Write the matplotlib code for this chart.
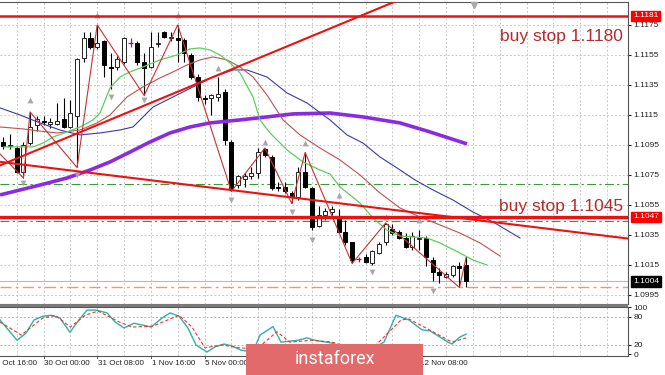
import matplotlib
matplotlib.use("Agg")
import matplotlib.pyplot as plt
import matplotlib.transforms as mtransforms
from matplotlib.patches import Rectangle
import numpy as np

plt.rcParams['font.family'] = ['Liberation Sans', 'DejaVu Sans']

# ---------------- data (EURUSD H4) ----------------
opens = [1.1097, 1.1094, 1.1093, 1.1077, 1.1096, 1.1108, 1.1111, 1.1109, 1.1109, 1.1112,
         1.1107, 1.1114, 1.1153, 1.1166, 1.1160, 1.1164, 1.1147, 1.1147, 1.1150, 1.1163,
         1.1163, 1.1150, 1.1147, 1.1162, 1.1170, 1.1166, 1.1166, 1.1165, 1.1155, 1.1140,
         1.11265, 1.1126, 1.1127, 1.1130, 1.1097, 1.1068, 1.1072, 1.1074, 1.1076, 1.1092,
         1.1087, 1.1067, 1.1067, 1.1063, 1.1060, 1.1077, 1.1066, 1.1041, 1.1048, 1.1050,
         1.1047, 1.1037, 1.1030, 1.1019, 1.1020, 1.1016, 1.1023, 1.1030, 1.1039, 1.1037,
         1.1033, 1.1027, 1.1032, 1.1033, 1.1018, 1.1010, 1.1007, 1.1008, 1.1014, 1.1015]
highs = [1.1100, 1.1102, 1.1094, 1.1097, 1.1117, 1.1114, 1.1114, 1.1113, 1.1123, 1.1126,
         1.1125, 1.1153, 1.1170, 1.1170, 1.1175, 1.1165, 1.1156, 1.1154, 1.1167, 1.1166,
         1.1164, 1.1156, 1.1170, 1.1170, 1.1171, 1.1170, 1.1175, 1.1166, 1.1156, 1.1142,
         1.1128, 1.1129, 1.1140, 1.1132, 1.1098, 1.1075, 1.1076, 1.1080, 1.1093, 1.1093,
         1.1088, 1.1070, 1.1070, 1.1064, 1.1080, 1.1090, 1.1067, 1.1054, 1.1053, 1.1054,
         1.1052, 1.1045, 1.1030, 1.1020, 1.1022, 1.1025, 1.1030, 1.1043, 1.1042, 1.1038,
         1.1036, 1.1037, 1.1038, 1.1034, 1.1020, 1.1013, 1.1010, 1.1015, 1.1017, 1.1020]
lows = [1.1092, 1.1092, 1.1076, 1.1073, 1.1095, 1.1104, 1.1108, 1.1106, 1.1108, 1.1106,
        1.1106, 1.1080, 1.1150, 1.1159, 1.1159, 1.1140, 1.1132, 1.1145, 1.1149, 1.1160,
        1.1148, 1.1128, 1.1146, 1.1160, 1.1166, 1.1164, 1.1150, 1.1150, 1.1139, 1.1124,
        1.1122, 1.1115, 1.1124, 1.1095, 1.1064, 1.1066, 1.1067, 1.1072, 1.1073, 1.1087,
        1.1065, 1.1064, 1.1063, 1.1056, 1.1058, 1.1066, 1.1038, 1.1040, 1.1045, 1.1048,
        1.1036, 1.1028, 1.1016, 1.1017, 1.1016, 1.1015, 1.1022, 1.1028, 1.1035, 1.1032,
        1.1026, 1.1025, 1.1025, 1.1014, 1.1004, 1.1003, 1.1006, 1.1007, 1.1000, 1.1000]
closes = [1.1094, 1.1095, 1.1077, 1.1095, 1.1107, 1.1112, 1.1110, 1.1110, 1.1111, 1.1107,
          1.1116, 1.1152, 1.1166, 1.1160, 1.1163, 1.1148, 1.1146, 1.1152, 1.1166, 1.1163,
          1.1150, 1.1146, 1.1160, 1.1163, 1.1167, 1.1167, 1.1165, 1.1156, 1.1140, 1.1127,
          1.11255, 1.1128, 1.1129, 1.1098, 1.1066, 1.1074, 1.1074, 1.1076, 1.1090, 1.1088,
          1.1066, 1.1066, 1.1064, 1.1060, 1.1077, 1.1067, 1.1040, 1.1048, 1.1051, 1.1052,
          1.1037, 1.1030, 1.1018, 1.1019, 1.1017, 1.1024, 1.1029, 1.1042, 1.1036, 1.1033,
          1.1027, 1.1034, 1.1033, 1.1020, 1.1010, 1.1008, 1.1009, 1.1014, 1.1013, 1.1004]

# Alligator lines (bar index / price)
lips_idx = [0.1, 4.43, 5.92, 7.41, 9.5, 11.43, 13.37, 14.42, 15.91, 17.4, 18.89, 20.82, 23.36,
            25.89, 27.83, 29.32, 30.81, 32.3, 33.8, 35.29, 37.23, 38.27, 39.76, 42.29, 44.68,
            47.21, 48.7, 50.19, 51.68, 53.18, 55.11, 57.2, 59.14, 63.16, 65.1, 68.08, 70.02, 72.11]
lips_val = [1.10937, 1.10937, 1.10963, 1.11003, 1.11037, 1.11070, 1.11117, 1.11163, 1.11330,
            1.11403, 1.11437, 1.11470, 1.11517, 1.11550, 1.11590, 1.11597, 1.11583, 1.11550,
            1.11497, 1.11430, 1.11270, 1.11117, 1.11030, 1.10917, 1.10837, 1.10783, 1.10757,
            1.10670, 1.10617, 1.10563, 1.10463, 1.10383, 1.10343, 1.10330, 1.10297, 1.10230,
            1.10183, 1.10150]
teeth_idx = [-0.49, 2.94, 5.47, 8.01, 11.43, 13.97, 15.91, 18.44, 20.82, 23.36, 25.3, 27.38,
             29.32, 31.26, 33.35, 35.29, 37.23, 39.31, 41.7, 44.23, 47.21, 50.19, 53.18, 56.16,
             59.14, 62.12, 65.1, 68.08, 71.07, 74.05]
teeth_val = [1.11070, 1.11057, 1.11043, 1.11030, 1.11050, 1.11097, 1.11150, 1.11270, 1.11337,
             1.11397, 1.11437, 1.11483, 1.11517, 1.11537, 1.11517, 1.11470, 1.11403, 1.11283,
             1.11117, 1.11017, 1.10930, 1.10850, 1.10750, 1.10630, 1.10530, 1.10470, 1.10417,
             1.10363, 1.10297, 1.10210]
jaw_idx = [-0.49, 2.49, 5.47, 8.45, 11.43, 14.42, 17.4, 19.34, 22.32, 25.3, 28.28, 31.26, 34.24,
           36.33, 39.31, 42.29, 45.27, 48.7, 51.24, 53.62, 56.16, 58.69, 61.37, 64.06, 67.04,
           70.02, 73.0, 77.03]
jaw_val = [1.11197, 1.11150, 1.11097, 1.11050, 1.11017, 1.11030, 1.11050, 1.11070, 1.11203,
           1.11270, 1.11337, 1.11403, 1.11450, 1.11450, 1.11403, 1.11297, 1.11230, 1.11117,
           1.11017, 1.10963, 1.10870, 1.10797, 1.10717, 1.10650, 1.10583, 1.10503, 1.10437,
           1.10330]
ma_idx = [-0.49, 2.49, 5.47, 9.5, 12.92, 15.91, 18.89, 21.87, 24.85, 27.83, 30.81, 35.29, 39.31,
          43.19, 48.7, 53.62, 59.14, 63.61, 69.13]
ma_val = [1.10617, 1.10650, 1.10683, 1.10730, 1.10783, 1.10837, 1.10903, 1.10970, 1.11030,
          1.11070, 1.11097, 1.11117, 1.11137, 1.11157, 1.11163, 1.11137, 1.11097, 1.11037,
          1.10957]

# ZigZag vertices
zz_idx = [-2, 3, 4, 11, 14, 21, 26, 34, 39, 43, 45, 52, 57, 68, 69]
zz_val = [1.1096, 1.1073, 1.1117, 1.1080, 1.1175, 1.1128, 1.1175, 1.1064, 1.1093, 1.1056,
          1.1090, 1.1016, 1.1043, 1.1000, 1.1020]

# Fractals
fr_up_idx = [4, 14, 26, 32, 39, 45, 50, 57, 62]
fr_up_val = [1.11250, 1.11817, 1.11817, 1.11463, 1.10970, 1.10963, 1.10617, 1.10470, 1.10450]
fr_dn_idx = [3, 11, 16, 21, 34, 43, 46, 55, 64]
fr_dn_val = [1.10697, 1.10750, 1.11270, 1.11250, 1.10583, 1.10503, 1.10317, 1.10103, 1.09977]

# Trend lines (two points each) and levels
trend_up = [(0, 1.10823), (48, 1.11713)]
trend_dn = [(0, 1.10835), (93, 1.10327)]
red_levels = [1.1181, 1.1047]
green_levels = [1.1069, 1.1044]
salmon_level = 1.1000
bid_price = 1.1004

price_ticks = [1.0995, 1.1015, 1.1035, 1.1055, 1.1075, 1.1095, 1.1115, 1.1135, 1.1155, 1.1175]

# Stochastic
st_main_idx = [-0.49, 2.04, 3.38, 4.58, 5.92, 7.11, 8.45, 9.94, 11.28, 12.48, 13.82, 15.46,
               16.65, 17.99, 19.48, 20.83, 22.02, 23.66, 24.85, 26.19, 27.53, 28.73, 30.37,
               31.56, 32.9, 34.09, 35.43, 36.33, 37.5, 38.27, 40.21, 41.4, 43.93, 45.27, 46.47,
               49.0, 51, 53, 55, 56.75, 58.54, 60.48, 62.42, 63.61, 66.29, 66.89, 68.08, 69]
st_main = [73, 30, 45, 73, 81, 83, 77, 47, 73, 94, 94, 88, 69, 56, 66, 62, 58, 77, 88, 81, 56,
           20, 5, 16, 22, 18, 9, 7, 15, 41, 59, 26, 30, 35, 30, 24, 12, 8, 12, 26, 83, 73, 52,
           50, 26, 22, 37, 43]
st_sig_idx = [-0.49, 2.68, 5.86, 7.77, 9.99, 12.22, 14.12, 17.25, 19.19, 22.32, 26.19, 28.13,
              30.07, 32.6, 35.14, 37.8, 40.8, 42.74, 45.87, 49.0, 52, 55, 59.29, 60.48, 63.01,
              66.89, 69]
st_sig = [69, 41, 77, 83, 58, 83, 92, 69, 58, 60, 83, 58, 14, 20, 14, 12, 48, 26, 30, 26, 14,
          12, 73, 75, 56, 26, 35]

# time labels visible in the reference (others are hidden under the watermark)
time_idx = [-2, 6, 14, 22, 30, 62]
time_lbl = ["29 Oct 16:00", "30 Oct 00:00", "31 Oct 08:00", "1 Nov 16:00", "5 Nov 00:00",
            "12 Nov 08:00"]
time_tick_idx = [6, 14, 22, 30, 38, 46, 54, 62]

# ---------------- figure ----------------
W, H = 665, 375
fig = plt.figure(figsize=(W / 100, H / 100), dpi=100)
fig.patch.set_facecolor('white')


def box(x0, y0, x1, y1):
    return [x0 / W, 1 - y1 / H, (x1 - x0) / W, (y1 - y0) / H]


ax = fig.add_axes(box(0, 2, 628, 304))
axs = fig.add_axes(box(0, 307, 628, 356))
fig.patches.append(Rectangle((0, 1 - 307 / H), 628 / W, 3 / H, transform=fig.transFigure,
                             fc='#7a7a7a', ec='none'))

xlim = (-0.49, 93.13)
for a in (ax, axs):
    a.set_xlim(*xlim)
    a.set_facecolor('white')
    for s in a.spines.values():
        s.set_color('#555555')
        s.set_linewidth(0.8)
    a.spines['left'].set_visible(False)
    a.yaxis.tick_right()
    a.tick_params(axis='y', length=2, pad=2, labelsize=6, colors='#222222')
    a.set_xticks([])
    grid_x = list(range(2, 94, 4))
    a.vlines(grid_x, 0, 1, transform=a.get_xaxis_transform(), color='#c9c9c9',
             lw=0.7, linestyles=(0, (2, 2)), zorder=0)

ax.set_ylim(1.09890, 1.11903)
ax.set_yticks(price_ticks)
ax.set_yticklabels([f"{p:.4f}" for p in price_ticks])
ax.hlines(price_ticks, 0, 1, transform=ax.get_yaxis_transform(), color='#c9c9c9',
          lw=0.7, linestyles=(0, (2, 2)), zorder=0)

# levels
for lv in green_levels:
    ax.axhline(lv, color='#3a9a3a', lw=0.8, ls=(0, (8, 3, 2, 3)), zorder=1)
ax.axhline(salmon_level, color='#e59a7a', lw=1.0, ls=(0, (8, 3, 2, 3)), zorder=1)
ax.axhline(bid_price, color='#b8b8b8', lw=0.8, zorder=1)

# candles
idx = np.arange(len(opens))
o = np.array(opens); h = np.array(highs); l = np.array(lows); c = np.array(closes)
up = c > o
dn = c < o
dj = c == o
ax.vlines(idx[~dj], l[~dj], h[~dj], color='black', lw=0.8, zorder=3)
ax.bar(idx[up], (c - o)[up], bottom=o[up], width=0.6, color='white', edgecolor='#222222',
       lw=0.7, zorder=3)
ax.bar(idx[dn], (o - c)[dn], bottom=c[dn], width=0.6, color='black', edgecolor='black',
       lw=0.7, zorder=3)
ax.vlines(idx[dj], l[dj], h[dj], color='#8b1a8b', lw=0.9, zorder=3)
ax.hlines(c[dj], idx[dj] - 0.35, idx[dj] + 0.35, color='#8b1a8b', lw=0.9, zorder=3)

# indicators
ax.plot(ma_idx, ma_val, color='#8a2be2', lw=2.6, solid_capstyle='butt', zorder=4)
ax.plot(jaw_idx, jaw_val, color='#3a3aa8', lw=0.8, zorder=4)
ax.plot(teeth_idx, teeth_val, color='#c25050', lw=0.8, zorder=4)
ax.plot(lips_idx, lips_val, color='#5ad05a', lw=0.9, zorder=4)
ax.plot(zz_idx, zz_val, color='#cc3030', lw=0.8, zorder=4)
ax.scatter(fr_up_idx, fr_up_val, marker='^', s=18, color='#a8a8a8', zorder=4, linewidths=0)
ax.scatter(fr_dn_idx, fr_dn_val, marker='v', s=18, color='#a8a8a8', zorder=4, linewidths=0)
ax.plot([0.754], [0.99], marker='v', ms=4, color='#a8a8a8', transform=ax.transAxes,
        clip_on=False, zorder=4)

# trend lines and red levels
ax.axline(trend_up[0], trend_up[1], color='#ee1111', lw=1.5, zorder=5)
ax.axline(trend_dn[0], trend_dn[1], color='#ee1111', lw=1.5, zorder=5)
ax.axhline(red_levels[0], color='#ee1111', lw=1.8, zorder=5)
ax.axhline(red_levels[1], color='#ee1111', lw=2.4, zorder=5)

ax.text(0.992, 0.887, "buy stop 1.1180", transform=ax.transAxes, ha='right', va='center',
        fontsize=12.5, color='#b52a2a', zorder=6)
ax.text(0.992, 0.3245, "buy stop 1.1045", transform=ax.transAxes, ha='right', va='center',
        fontsize=12.5, color='#b52a2a', zorder=6)

# price tags
tr = mtransforms.blended_transform_factory(ax.transAxes, ax.transData)
for val, col in ((red_levels[0], '#ff0000'), (red_levels[1], '#ff0000'), (bid_price, '#000000')):
    ax.text(1.008, val, f"{val:.4f}", transform=tr, ha='left', va='center', fontsize=6,
            color='white', clip_on=False, zorder=7,
            bbox=dict(boxstyle='square,pad=0.2', fc=col, ec=col))

# stochastic
axs.set_ylim(-3.4, 100.5)
axs.set_yticks([0, 20, 80, 100])
axs.set_yticklabels(['0', '20', '80', '100'])
for lv in (20, 80):
    axs.axhline(lv, color='#b0b0b0', lw=0.7, ls=(0, (2, 2)), zorder=1)
axs.plot(st_main_idx, st_main, color='#2ab3a6', lw=1.0, zorder=3)
axs.plot(st_sig_idx, st_sig, color='#ee3333', lw=0.8, ls=(0, (3, 2)), zorder=3)

ttr = mtransforms.blended_transform_factory(axs.transData, axs.transAxes)
for ti, tl in zip(time_idx, time_lbl):
    axs.text(ti + 0.1, -0.16, tl, transform=ttr, ha='left', va='center', fontsize=5.8,
             color='#222222', clip_on=False)
for ti in time_tick_idx:
    axs.plot([ti, ti], [0, -0.05], transform=ttr, color='#555555', lw=0.7, clip_on=False)

# watermark
fig.patches.append(Rectangle((246 / W, 0), (423 - 246) / W, 31 / H, transform=fig.transFigure,
                             fc='#e26a6a', ec='none', zorder=10))
fig.text(334.5 / W, 1 - 359 / H, "instaforex", color='white', fontsize=13,
         family=['Roboto', 'DejaVu Sans'], ha='center', va='center', zorder=11)

fig.savefig("out.png", dpi=100, facecolor='white')
